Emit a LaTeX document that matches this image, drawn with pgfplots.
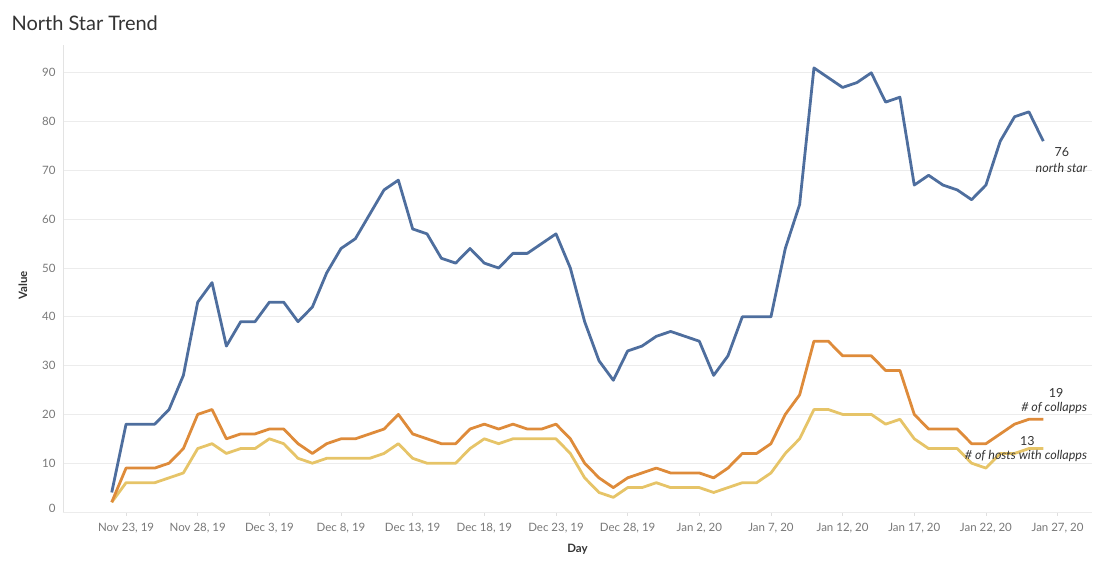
\documentclass[border=0pt]{standalone}
\usepackage{pgfplots}
\pgfplotsset{compat=1.18}
\usepackage{pgfplotstable}
\usepackage{fontspec}
\setmainfont{Lato}

\definecolor{nsblue}{RGB}{78,110,158}
\definecolor{collorange}{RGB}{222,139,58}
\definecolor{hostyellow}{RGB}{230,196,104}
\definecolor{ticktext}{RGB}{120,120,120}
\definecolor{labeltext}{RGB}{51,51,51}
\definecolor{gridgrey}{RGB}{236,236,236}

% day index 0 = Nov 22, 2019
\pgfplotstableread{
day ns coll hosts
0 4 2 2
1 18 9 6
2 18 9 6
3 18 9 6
4 21 10 7
5 28 13 8
6 43 20 13
7 47 21 14
8 34 15 12
9 39 16 13
10 39 16 13
11 43 17 15
12 43 17 14
13 39 14 11
14 42 12 10
15 49 14 11
16 54 15 11
17 56 15 11
18 61 16 11
19 66 17 12
20 68 20 14
21 58 16 11
22 57 15 10
23 52 14 10
24 51 14 10
25 54 17 13
26 51 18 15
27 50 17 14
28 53 18 15
29 53 17 15
30 55 17 15
31 57 18 15
32 50 15 12
33 39 10 7
34 31 7 4
35 27 5 3
36 33 7 5
37 34 8 5
38 36 9 6
39 37 8 5
40 36 8 5
41 35 8 5
42 28 7 4
43 32 9 5
44 40 12 6
45 40 12 6
46 40 14 8
47 54 20 12
48 63 24 15
49 91 35 21
50 89 35 21
51 87 32 20
52 88 32 20
53 90 32 20
54 84 29 18
55 85 29 19
56 67 20 15
57 69 17 13
58 67 17 13
59 66 17 13
60 64 14 10
61 67 14 9
62 76 16 12
63 81 18 12
64 82 19 13
65 76 19 13
}\trend

\begin{document}
\begin{tikzpicture}
\begin{axis}[
    scale only axis,
    width=1029pt, height=467pt,
    xmin=-3.4, xmax=68.4,
    ymin=0, ymax=95.7,
    axis lines*=left,
    axis line style={-, draw=gray!22, line width=0.8pt},
    xtick={1,6,...,66},
    xticklabels={Nov 23{,} 19, Nov 28{,} 19, Dec 3{,} 19, Dec 8{,} 19, Dec 13{,} 19,
        Dec 18{,} 19, Dec 23{,} 19, Dec 28{,} 19, Jan 2{,} 20, Jan 7{,} 20,
        Jan 12{,} 20, Jan 17{,} 20, Jan 22{,} 20, Jan 27{,} 20},
    ytick={10,20,...,90},
    extra y ticks={0},
    extra y tick style={yticklabel style={yshift=4pt}},
    ymajorgrids,
    grid style={draw=gridgrey, line width=0.8pt},
    tick align=outside,
    major tick length=4pt,
    xtick style={draw=gray!25, line width=0.6pt},
    ytick style={draw=none},
    tick label style={font=\fontsize{11.5}{13}\selectfont, text=ticktext},
    xticklabel style={yshift=-4pt},
    /pgf/number format/assume math mode=true,
    xlabel={Day},
    ylabel={Value},
    every axis x label/.style={at={(axis description cs:0.5,0)}, yshift=-37pt,
        anchor=center, font=\bfseries\fontsize{11.5}{13}\selectfont, text=labeltext},
    every axis y label/.style={at={(axis description cs:0,0.485)}, xshift=-40pt,
        rotate=90, anchor=center, font=\bfseries\fontsize{11.5}{13}\selectfont, text=labeltext},
    clip=false,
]
\addplot[hostyellow, line width=2.8pt, line join=round] table[x=day, y=hosts] {\trend};
\addplot[collorange, line width=2.8pt, line join=round] table[x=day, y=coll] {\trend};
\addplot[nsblue, line width=2.8pt, line join=round] table[x=day, y=ns] {\trend};

\begin{scope}[font=\fontsize{12.5}{14}\selectfont, text=labeltext]
\node at (axis cs:66.3,73.8) {76};
\node[anchor=east, font=\itshape\fontsize{12.5}{14}\selectfont] at (axis cs:68.3,70.5) {north star};
\node at (axis cs:65.9,24.4) {19};
\node[anchor=east, font=\itshape\fontsize{12.5}{14}\selectfont] at (axis cs:68.3,21.3) {\# of collapps};
\node at (axis cs:63.9,14.5) {13};
\node[anchor=east, font=\itshape\fontsize{12.5}{14}\selectfont] at (axis cs:68.3,11.5) {\# of hosts with collapps};
\end{scope}
\end{axis}
\node[anchor=west, text=labeltext, font=\fontsize{20}{23}\selectfont] at (-55pt,489pt) {North Star Trend};
\path[use as bounding box] (-63pt,-55pt) rectangle (1037pt,512pt);
\end{tikzpicture}
\end{document}
